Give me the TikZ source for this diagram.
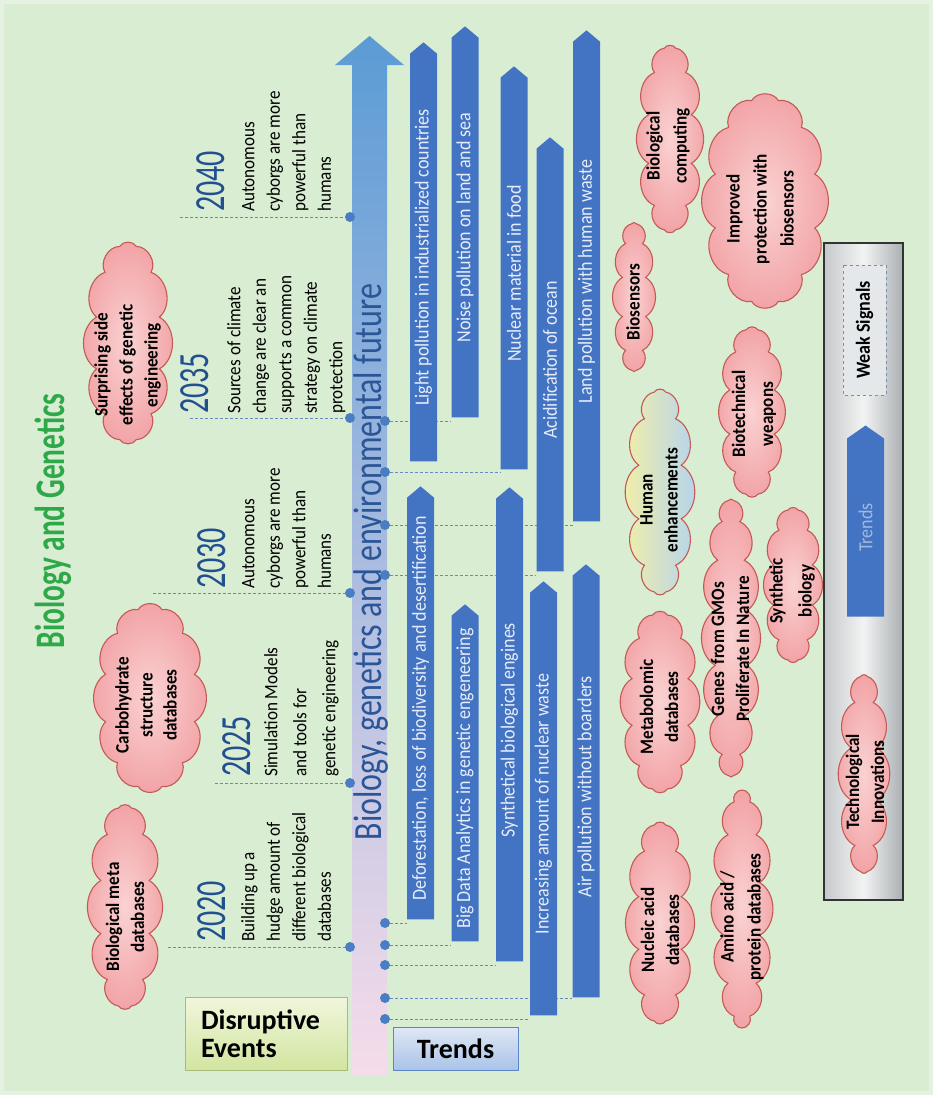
\documentclass[tikz,border=0pt]{standalone}
\usepackage{fontspec}
\setmainfont{Carlito}
\newfontfamily\cfA[FakeStretch=0.7]{Carlito}
\newfontfamily\cfB[FakeStretch=0.8]{Carlito}
\newfontfamily\cfC[FakeStretch=0.9]{Carlito}
\usetikzlibrary{shapes.symbols}
\definecolor{bgouter}{HTML}{E6F2E1}
\definecolor{bginner}{HTML}{D9EDD2}
\definecolor{arrowtop}{HTML}{5B9BD5}
\definecolor{arrowmid}{HTML}{9DC3E8}
\definecolor{arrowbot}{HTML}{F6DCEA}
\definecolor{trendblue}{HTML}{4373C3}
\definecolor{trendtext}{HTML}{E6EDF8}
\definecolor{legtext}{HTML}{A2B9DF}
\definecolor{dotblue}{HTML}{4A7DC2}
\definecolor{dashc}{HTML}{6A88BE}
\definecolor{yearblue}{HTML}{22508F}
\definecolor{titleblue}{HTML}{2A5596}
\definecolor{titlegreen}{HTML}{2FA84A}
\definecolor{cloudline}{HTML}{C55A55}
\definecolor{cloudin}{HTML}{FAD2D2}
\definecolor{cloudout}{HTML}{F2A3A6}
\definecolor{humL}{HTML}{F3EFA6}
\definecolor{humM}{HTML}{D4ECC4}
\definecolor{humR}{HTML}{B3D3F0}
\definecolor{deline}{HTML}{A9BB78}
\definecolor{detop}{HTML}{F1F6DC}
\definecolor{debot}{HTML}{D2E5A0}
\definecolor{trline}{HTML}{5B85C4}
\definecolor{trtop}{HTML}{DFE8F5}
\definecolor{trbot}{HTML}{A9C3E8}
\definecolor{legline}{HTML}{333333}
\definecolor{legA}{HTML}{C6C9CB}
\definecolor{legB}{HTML}{F2F3F3}
\definecolor{legC}{HTML}{ABAFB2}
\definecolor{wsline}{HTML}{6F8FBF}
\definecolor{wsfill}{HTML}{E4E8EA}
\pgfdeclarelayer{back}
\pgfdeclarelayer{lines}
\pgfsetlayers{back,lines,main}
% cloud: [options]{cx}{cy}{rx}{ry}{puffs}
\newcommand\mycloud[6][]{%
  \path[cloudpath,#1] ({#2+#4*cos(180/#6)},{#3+#5*sin(180/#6)})
    \foreach \k in {1,...,#6} { to[bend left=60] ({#2+#4*cos(180/#6+360*\k/#6)},{#3+#5*sin(180/#6+360*\k/#6)}) } -- cycle;}
\begin{document}
\begin{tikzpicture}[x=1pt,y=-1pt,
  cloudpath/.style={draw=cloudline, line width=1.1pt, inner color=cloudin, outer color=cloudout},
  cloudtext/.style={rotate=90, align=center, inner sep=0,
    font=\cfC\bfseries\fontsize{19}{25}\selectfont},
  trend/.style={signal, signal to=east, signal pointer angle=100, rotate=90,
    fill=trendblue, text=trendtext, minimum height=27pt, inner sep=0,
    font=\cfC\fontsize{20}{24}\selectfont},
  dot/.style={circle, fill=dotblue, minimum size=10pt, inner sep=0},
  conn/.style={draw=dashc, line width=0.9pt, dash pattern=on 3pt off 2pt},
  year/.style={rotate=90, anchor=west, inner sep=0, text=yearblue,
    font=\cfA\fontsize{43}{43}\selectfont},
  event/.style={rotate=90, anchor=north west, align=left, inner sep=0,
    font=\cfC\fontsize{19}{25.5}\selectfont}
]
\useasboundingbox (0,0) rectangle (933,1095);
\begin{pgfonlayer}{back}
\fill[bgouter] (0,0) rectangle (933,1095);
\fill[bginner] (4,4) rectangle (929,1091);
\shade[top color=arrowtop, middle color=arrowmid, bottom color=arrowbot]
  (352,1075) -- (352,65) -- (335,65) -- (369.5,36) -- (404,65) -- (387,65) -- (387,1075) -- cycle;
\end{pgfonlayer}

% titles
\node[rotate=90, inner sep=0, text=titlegreen, font=\cfA\bfseries\fontsize{42}{42}\selectfont] (gt) at (53,521) {Biology and Genetics};
\node[rotate=90, inner sep=0, text=titleblue, font=\cfB\fontsize{40}{40}\selectfont] (mt) at (371,562) {Biology, genetics and environmental future};

% trends
\node[trend, minimum width=419pt] (t1) at (423.5,257.5) {Light pollution in industrialized countries};
\node[trend, minimum width=391pt] (t2) at (465,227.5) {Noise pollution on land and sea};
\node[trend, minimum width=403pt] (t3) at (514,273.5) {Nuclear material in food};
\node[trend, minimum width=434pt] (t4) at (550,360) {Acidification of ocean};
\node[trend, minimum width=491pt] (t5) at (586.5,281.5) {Land pollution with human waste};
\node[trend, minimum width=433pt] (t6) at (420.5,708.5) {Deforestation, loss of biodiversity and desertification};
\node[trend, minimum width=337pt] (t7) at (465,778.5) {Big Data Analytics in genetic engeneering};
\node[trend, minimum width=474pt] (t8) at (509.5,730) {Synthetical biological engines};
\node[trend, minimum width=434pt] (t9) at (543.5,804) {Increasing amount of nuclear waste};
\node[trend, minimum width=433pt] (t10) at (586,786.5) {Air pollution without boarders};

% trend dots and connectors
\node[dot] (d1) at (385,421) {};
\node[dot] (d2) at (385,472) {};
\node[dot] (d3) at (385,525) {};
\node[dot] (d4) at (385,575) {};
\node[dot] (d5) at (385,923) {};
\node[dot] (d6) at (385,945) {};
\node[dot] (d7) at (385,965) {};
\node[dot] (d8) at (385,998) {};
\node[dot] (d9) at (385,1019) {};
\begin{pgfonlayer}{lines}
\draw[conn] (d1) -- (d1 -| t2.north);
\draw[conn] (d2) -- (d2 -| t3.north);
\draw[conn] (d3) -- (d3 -| t5.north);
\draw[conn] (d4) -- (d4 -| t4.north);
\draw[conn] (d5) -- (d5 -| t6.north);
\draw[conn] (d6) -- (d6 -| t7.north);
\draw[conn] (d7) -- (d7 -| t8.north);
\draw[conn] (d8) -- (d8 -| t10.north);
\draw[conn] (d9) -- (d9 -| t9.north);
\end{pgfonlayer}

% disruptive events
\node[dot] (e1) at (350,217) {};
\node[dot] (e2) at (350,418) {};
\node[dot] (e3) at (350,593) {};
\node[dot] (e4) at (350,783) {};
\node[dot] (e5) at (350,947) {};
\coordinate (e1s) at (180,217);
\coordinate (e2s) at (190,418);
\coordinate (e3s) at (153,593);
\coordinate (e4s) at (215,783);
\coordinate (e5s) at (168,947);
\begin{pgfonlayer}{lines}
\draw[conn] (e1s) -- (e1);
\draw[conn] (e2s) -- (e2);
\draw[conn] (e3s) -- (e3);
\draw[conn] (e4s) -- (e4);
\draw[conn] (e5s) -- (e5);
\end{pgfonlayer}
\node[year] (y1) at (211,212) {2040};
\node[year] (y2) at (195,414) {2035};
\node[year] (y3) at (212,589) {2030};
\node[year] (y4) at (237,777) {2025};
\node[year] (y5) at (212,942) {2020};
\node[event] (v1) at (242,212) {Autonomous\\cyborgs are more\\powerful than\\humans};
\node[event] (v2) at (227,414) {Sources of climate\\change are clear an\\supports a common\\strategy on climate\\protection};
\node[event] (v3) at (242,589) {Autonomous\\cyborgs are more\\powerful than\\humans};
\node[event, font=\cfC\fontsize{19}{29}\selectfont] (v4) at (264,777) {Simulation Models\\and tools for\\genetic engineering};
\node[event] (v5) at (241,942) {Building up a\\hudge amount of\\different biological\\databases};

% clouds
\mycloud{128}{343}{32.5}{100}{12}
\node[cloudtext] (c1t) at (127.5,365) {Surprising side\\effects of genetic\\engineering};
\mycloud{150}{698}{46}{91.5}{12}
\node[cloudtext, font=\cfC\bfseries\fontsize{19}{24}\selectfont] (c2t) at (146,705) {Carbohydrate\\structure\\databases};
\mycloud{125}{907}{25}{102.5}{12}
\node[cloudtext] (c3t) at (125,917) {Biological meta\\databases};
\mycloud{670}{139}{22}{94}{12}
\node[cloudtext, font=\cfC\bfseries\fontsize{19}{27}\selectfont] (c4t) at (668,146) {Biological\\computing};
\mycloud{765}{201}{51.5}{104}{12}
\node[cloudtext, font=\cfC\bfseries\fontsize{19}{27}\selectfont] (c5t) at (760,209) {Improved\\protection with\\biosensors};
\mycloud{634}{297}{12}{75.5}{12}
\node[cloudtext] (c6t) at (633,302) {Biosensors};
\mycloud[left color=humL, middle color=humM, right color=humR]{660}{492}{22}{103.5}{12}
\node[cloudtext] (c7t) at (659,500) {Human\\enhancements};
\mycloud{752}{412}{23}{85}{12}
\node[cloudtext, font=\cfC\bfseries\fontsize{19}{28}\selectfont] (c8t) at (754,414) {Biotechnical\\weapons};
\mycloud{660}{702}{29}{90}{12}
\node[cloudtext] (c9t) at (659,707) {Metabolomic\\databases};
\mycloud{731}{638}{16}{140}{16}
\node[cloudtext] (c10t) at (730,649) {Genes~ from GMOs\\Proliferate In Nature};
\mycloud{793}{585}{20}{77.5}{12}
\node[cloudtext, font=\cfC\bfseries\fontsize{19}{29}\selectfont] (c11t) at (792,591) {Synthetic\\biology};
\mycloud{660}{923}{22}{101.5}{12}
\node[cloudtext] (c12t) at (660,930) {Nucleic acid\\databases};
\mycloud{742}{909}{18}{119}{14}
\node[cloudtext, font=\cfC\bfseries\fontsize{19}{27}\selectfont] (c13t) at (742,917) {Amino acid /\\protein databases};

% boxes
\node[draw=deline, line width=1pt, top color=detop, bottom color=debot,
  minimum width=162pt, minimum height=73pt, text width=130pt, inner xsep=16pt,
  align=left, font=\bfseries\fontsize{28}{28}\selectfont] (de) at (266,1033.5) {Disruptive\\Events};
\node[draw=trline, line width=1pt, top color=trtop, bottom color=trbot,
  minimum width=125pt, minimum height=43pt, inner sep=0,
  font=\bfseries\fontsize{28}{28}\selectfont] (tb) at (455.5,1048.5) {Trends};

% legend
\node[draw=legline, line width=2pt, left color=legA, right color=legC, middle color=legB,
  minimum width=79pt, minimum height=657pt, inner sep=0] (leg) at (863.5,571.5) {};
\node[rotate=90, draw=wsline, dashed, line width=0.8pt, fill=wsfill, minimum width=130pt,
  minimum height=43pt, inner sep=0, font=\cfC\bfseries\fontsize{20}{20}\selectfont] (ws) at (864.5,330) {Weak Signals};
\node[trend, minimum width=191pt, minimum height=37pt, signal pointer angle=110, text=legtext] (lt) at (865.5,527.5) {Trends};
\mycloud{864}{774}{13}{101}{12}
\node[cloudtext] (c14t) at (865,782) {Technological\\Innovations};
\end{tikzpicture}
\end{document}
